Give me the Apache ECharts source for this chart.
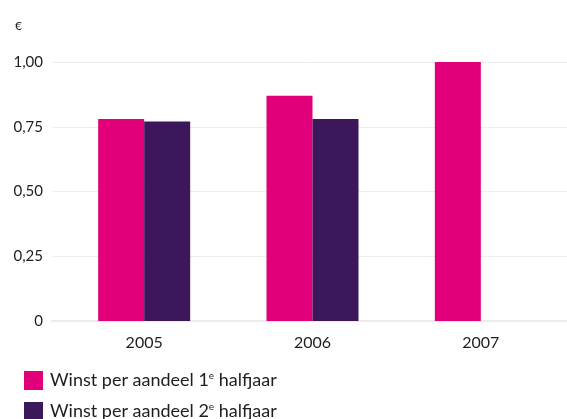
<!DOCTYPE html>
<html>
<head>
<meta charset="utf-8">
<script src="https://cdn.jsdelivr.net/npm/echarts@6/dist/echarts.min.js"></script>
<style>
  html, body { margin: 0; padding: 0; background: #fff; }
  #chart { width: 567px; height: 419px; }
</style>
</head>
<body>
<div id="chart"></div>
<script>
// Winst per aandeel per halfjaar (in euro)
const years = ['2005', '2006', '2007'];
const firstHalf = [0.78, 0.87, 1.00];
const secondHalf = [0.77, 0.78, null];
const seriesNames = ['Winst per aandeel 1e halfjaar', 'Winst per aandeel 2e halfjaar'];
const yTicks = [0, 0.25, 0.5, 0.75, 1.0];

const PINK = '#E2007A';
const PURPLE = '#3D175C';
const FONT = 'Lato';
const TEXT = '#1e1e1e';

const chart = echarts.init(document.getElementById('chart'), null, { renderer: 'canvas' });

const fmtEuro = v => v === 0 ? '0' : v.toFixed(2).replace('.', ',');

// one legend block per series, stacked under the chart
const legendBlock = (name, top) => ({
  orient: 'vertical',
  left: 24, top: top,
  padding: 0,
  itemWidth: 19, itemHeight: 19, itemGap: 0,
  icon: 'rect',
  data: [name],
  formatter: n => n.replace(/(\d)e /, '$1{sup|e} '),
  textStyle: {
    fontSize: 18, color: TEXT, fontFamily: FONT, padding: [0, 0, 0, 2],
    rich: {
      sup: { fontSize: 10, color: TEXT, fontFamily: FONT, padding: [0, 0, 9, 0] }
    }
  }
});

chart.setOption({
  animation: false,
  textStyle: { fontFamily: FONT },
  title: {
    text: '€',
    left: 10, top: 15,
    textStyle: { fontSize: 12, fontWeight: 'normal', color: TEXT, fontFamily: FONT }
  },
  grid: [
    // background grid carrying the value scale and gridlines
    { left: 52, right: 0, top: 62, height: 259, containLabel: false },
    // bars
    { left: 60, width: 505, top: 62, height: 259, containLabel: false }
  ],
  legend: [
    legendBlock(seriesNames[0], 371),
    legendBlock(seriesNames[1], 402)
  ],
  xAxis: [
    {
      gridIndex: 0, type: 'category', data: [''],
      axisLine: { show: true, lineStyle: { color: '#ebebeb', width: 2 } },
      axisTick: { show: false }, axisLabel: { show: false }
    },
    {
      gridIndex: 1, type: 'category', data: years,
      axisLine: { show: false }, axisTick: { show: false },
      axisLabel: { fontSize: 16, color: TEXT, margin: 14, fontFamily: FONT }
    }
  ],
  yAxis: [
    {
      gridIndex: 0, type: 'value', min: 0, max: 1, interval: 0.25,
      axisLine: { show: false }, axisTick: { show: false },
      splitLine: { lineStyle: { color: '#ededed', width: 1 } },
      axisLabel: { fontSize: 15, color: TEXT, margin: 9, fontFamily: FONT, formatter: fmtEuro,
        customValues: yTicks }
    },
    {
      gridIndex: 1, type: 'value', min: 0, max: 1, interval: 0.25,
      show: false, splitLine: { show: false }
    }
  ],
  series: [
    {
      name: seriesNames[0], type: 'bar', xAxisIndex: 1, yAxisIndex: 1,
      data: firstHalf, barWidth: 46, barGap: '0%',
      itemStyle: { color: PINK }
    },
    {
      name: seriesNames[1], type: 'bar', xAxisIndex: 1, yAxisIndex: 1,
      data: secondHalf, barWidth: 46, barGap: '0%',
      itemStyle: { color: PURPLE }
    }
  ]
});
</script>
</body>
</html>
